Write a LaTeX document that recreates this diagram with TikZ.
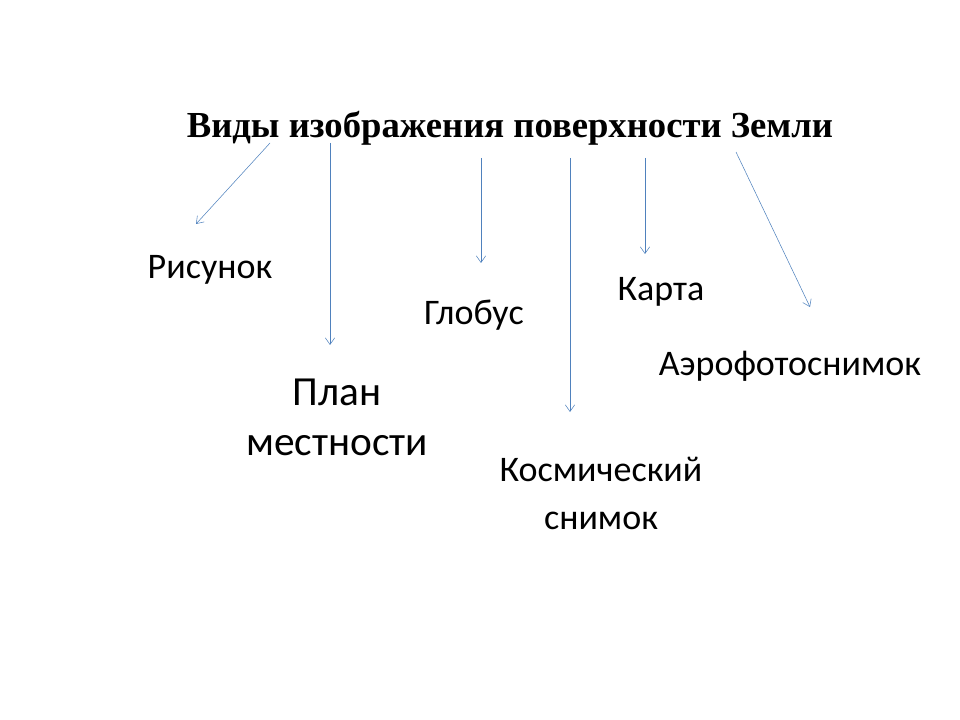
\documentclass[tikz,border=0pt]{standalone}
\usepackage{fontspec}
\setmainfont{Liberation Serif}
\newfontfamily\labelfont{Carlito}
\usetikzlibrary{arrows.meta}
\definecolor{arrowblue}{RGB}{79,129,189}
\tikzset{
  kind/.style={font=\labelfont\fontsize{27}{32}\selectfont, align=center},
  link/.style={draw=arrowblue, thin, -{Straight Barb[length=5pt,width=7pt]}}
}
\begin{document}
\begin{tikzpicture}[x=0.75pt, y=-0.75pt]
    \useasboundingbox (0,0) rectangle (960,720);

    % Title
    \node (title) at (510,128) {\fontsize{27.5}{32}\selectfont\bfseries Виды изображения поверхности Земли};

    % Kinds
    \node[kind] (risunok) at (210,270) {Рисунок};
    \node[kind, font=\labelfont\fontsize{31}{37.5}\selectfont] (plan) at (337,417) {План\\местности};
    \node[kind] (globus) at (474,315) {Глобус};
    \node[kind] (karta) at (661,292) {Карта};
    \node[kind] (aero) at (790,366) {Аэрофотоснимок};
    \node[kind, font=\labelfont\fontsize{27}{36}\selectfont] (kosmos) at (601,493) {Космический\\снимок};

    % Arrow ends
    \coordinate (t1) at (270,143); \coordinate (h1) at (196,224);
    \coordinate (t2) at (330,143); \coordinate (h2) at (330,345);
    \coordinate (t3) at (481,158); \coordinate (h3) at (481,263);
    \coordinate (t4) at (570,158); \coordinate (h4) at (570,412);
    \coordinate (t5) at (645,158); \coordinate (h5) at (645,254);
    \coordinate (t6) at (736,152); \coordinate (h6) at (810,307);

    \foreach \i in {1,...,6} {
        \draw[link] (t\i) -- (h\i);
    }
\end{tikzpicture}
\end{document}
